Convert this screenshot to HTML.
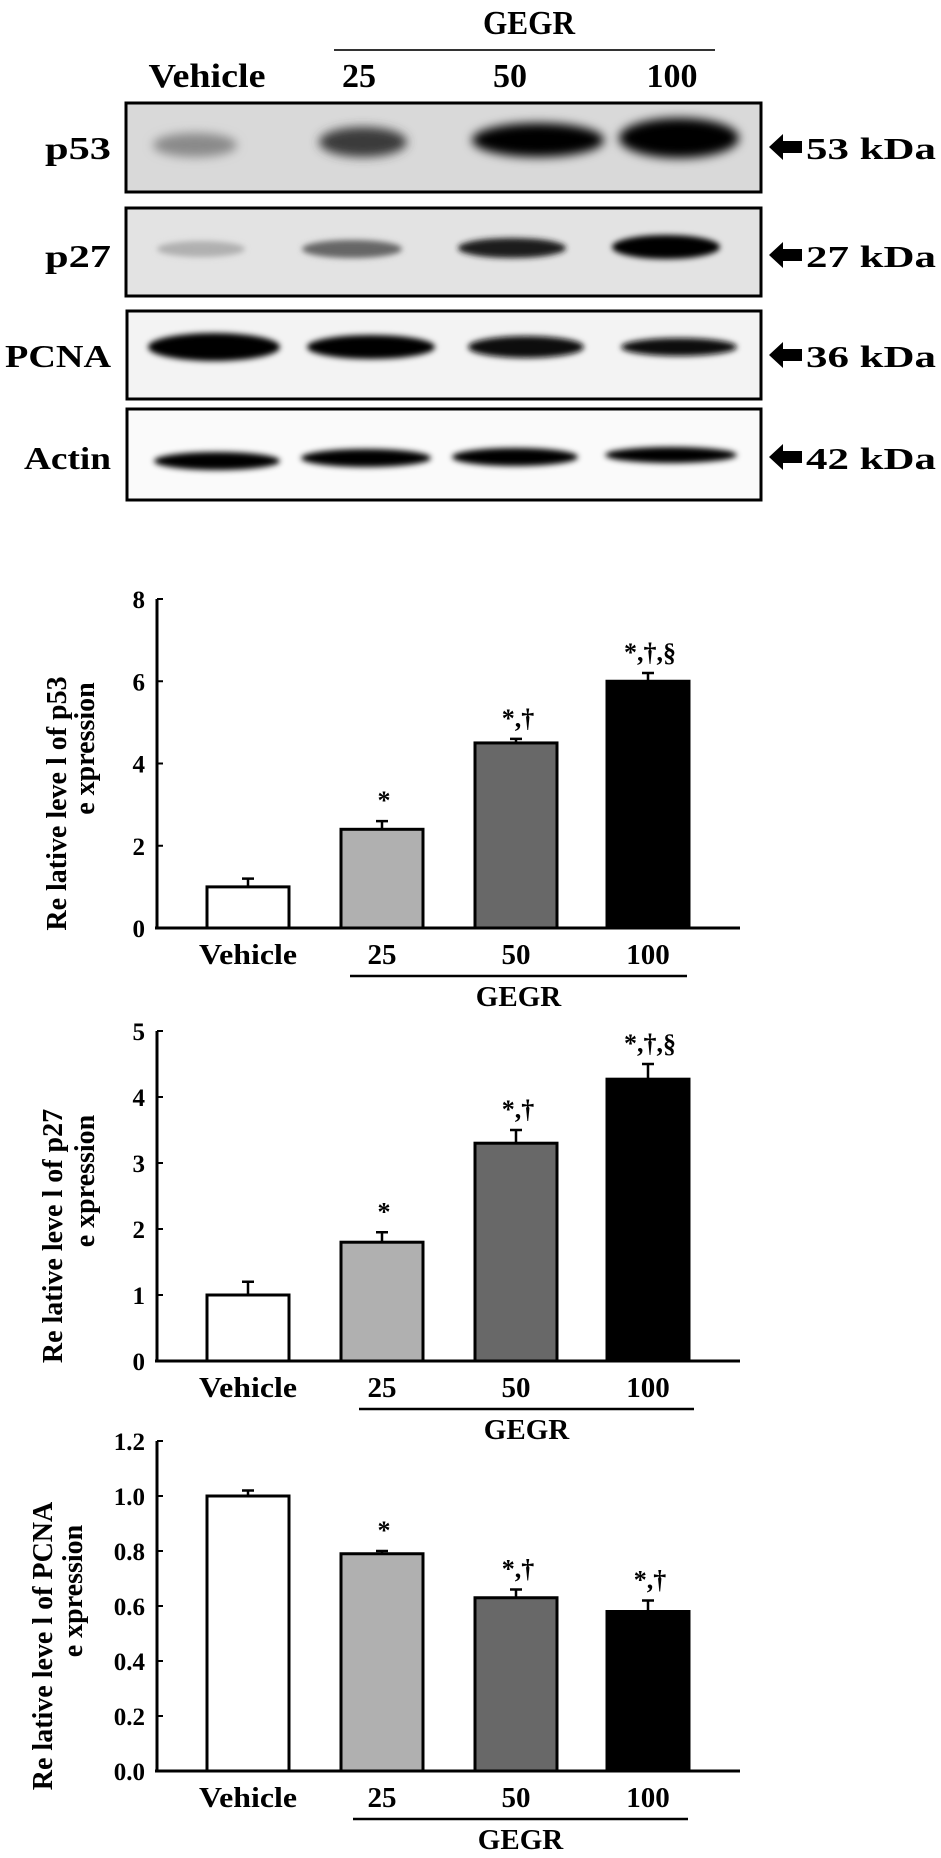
<!DOCTYPE html>
<html><head><meta charset="utf-8"><style>
html,body{margin:0;padding:0;background:#fff}
svg{display:block}
text{font-family:"Liberation Serif",serif;font-weight:bold;fill:#000}
</style></head><body>
<svg id="fig" width="941" height="1858" viewBox="0 0 941 1858" xmlns="http://www.w3.org/2000/svg">
<defs>
<filter id="blur" x="-30%" y="-60%" width="160%" height="220%"><feGaussianBlur stdDeviation="5"/></filter>
<filter id="blur2" x="-30%" y="-60%" width="160%" height="220%"><feGaussianBlur stdDeviation="3"/></filter>
</defs>
<g>
<text x="529" y="34" text-anchor="middle" font-size="34" textLength="92" lengthAdjust="spacingAndGlyphs">GEGR</text>
<line x1="334" y1="50" x2="715" y2="50" stroke="#333" stroke-width="2"/>
<text x="207" y="87" text-anchor="middle" font-size="34" textLength="117" lengthAdjust="spacingAndGlyphs">Vehicle</text>
<text x="359" y="87" text-anchor="middle" font-size="34">25</text>
<text x="510" y="87" text-anchor="middle" font-size="34">50</text>
<text x="672" y="87" text-anchor="middle" font-size="34">100</text>

<g>
<rect x="126" y="103" width="635" height="89" fill="#d9d9d9" stroke="#000" stroke-width="3"/>
<g filter="url(#blur)">
<ellipse cx="195" cy="145" rx="42" ry="12" fill="#8a8a8a"/>
<ellipse cx="363" cy="142" rx="44" ry="15" fill="#3a3a3a"/>
<ellipse cx="538" cy="140" rx="66" ry="17" fill="#000"/>
<ellipse cx="679" cy="138" rx="60" ry="20" fill="#000"/>
</g>
<rect x="126" y="103" width="635" height="89" fill="none" stroke="#000" stroke-width="3"/>
<text x="111" y="159" text-anchor="end" font-size="32" textLength="66" lengthAdjust="spacingAndGlyphs">p53</text>
</g>
<g>
<rect x="126" y="208" width="635" height="88" fill="#e3e3e3" stroke="#000" stroke-width="3"/>
<g filter="url(#blur2)">
<ellipse cx="201" cy="249" rx="44" ry="8" fill="#b0b0b0"/>
<ellipse cx="352" cy="249" rx="50" ry="9" fill="#666"/>
<ellipse cx="512" cy="248" rx="54" ry="10" fill="#1e1e1e"/>
<ellipse cx="666" cy="247" rx="54" ry="12" fill="#000"/>
</g>
<rect x="126" y="208" width="635" height="88" fill="none" stroke="#000" stroke-width="3"/>
<text x="111" y="267" text-anchor="end" font-size="32" textLength="66" lengthAdjust="spacingAndGlyphs">p27</text>
</g>
<g>
<rect x="127" y="311" width="634" height="88" fill="#f3f3f3" stroke="#000" stroke-width="3"/>
<g filter="url(#blur2)">
<ellipse cx="214" cy="347" rx="66" ry="14" fill="#000"/>
<ellipse cx="371" cy="347" rx="64" ry="12" fill="#050505"/>
<ellipse cx="526" cy="347" rx="58" ry="11" fill="#080808"/>
<ellipse cx="679" cy="347" rx="58" ry="9" fill="#0a0a0a"/>
</g>
<rect x="127" y="311" width="634" height="88" fill="none" stroke="#000" stroke-width="3"/>
<text x="111" y="367" text-anchor="end" font-size="32" textLength="106" lengthAdjust="spacingAndGlyphs">PCNA</text>
</g>
<g>
<rect x="127" y="409" width="634" height="91" fill="#fafafa" stroke="#000" stroke-width="3"/>
<g filter="url(#blur2)">
<ellipse cx="217" cy="461" rx="63" ry="9" fill="#000"/>
<ellipse cx="366" cy="458" rx="65" ry="9" fill="#000"/>
<ellipse cx="515" cy="457" rx="63" ry="9" fill="#000"/>
<ellipse cx="671" cy="455" rx="66" ry="8" fill="#000"/>
</g>
<rect x="127" y="409" width="634" height="91" fill="none" stroke="#000" stroke-width="3"/>
<text x="111" y="469" text-anchor="end" font-size="32" textLength="87" lengthAdjust="spacingAndGlyphs">Actin</text>
</g>
<g>
<path d="M769 147 L783 134 L783 141 L802 141 L802 153 L783 153 L783 160 Z" fill="#000"/>
<text x="806" y="159" font-size="31" textLength="130" lengthAdjust="spacingAndGlyphs">53 kDa</text>
<path d="M769 255 L783 242 L783 249 L802 249 L802 261 L783 261 L783 268 Z" fill="#000"/>
<text x="806" y="267" font-size="31" textLength="130" lengthAdjust="spacingAndGlyphs">27 kDa</text>
<path d="M769 355 L783 342 L783 349 L802 349 L802 361 L783 361 L783 368 Z" fill="#000"/>
<text x="806" y="367" font-size="31" textLength="130" lengthAdjust="spacingAndGlyphs">36 kDa</text>
<path d="M769 457 L783 444 L783 451 L802 451 L802 463 L783 463 L783 470 Z" fill="#000"/>
<text x="806" y="469" font-size="31" textLength="130" lengthAdjust="spacingAndGlyphs">42 kDa</text>
</g>
</g>
</svg>
<script>
const categories = ["Vehicle","25","50","100"];
const barColors = ["#ffffff","#b0b0b0","#686868","#000000"];
const p53Values = [1.0, 2.4, 4.5, 6.0];
const p53Errors = [0.2, 0.2, 0.1, 0.2];
const p53Sig = ["", "*", "*,†", "*,†,§"];
const p53Ticks = ["0","2","4","6","8"];
const p27Values = [1.0, 1.8, 3.3, 4.27];
const p27Errors = [0.2, 0.15, 0.2, 0.23];
const p27Sig = ["", "*", "*,†", "*,†,§"];
const p27Ticks = ["0","1","2","3","4","5"];
const pcnaValues = [1.0, 0.79, 0.63, 0.58];
const pcnaErrors = [0.02, 0.01, 0.03, 0.04];
const pcnaSig = ["", "*", "*,†", "*,†"];
const pcnaTicks = ["0.0","0.2","0.4","0.6","0.8","1.0","1.2"];

const NS = "http://www.w3.org/2000/svg";
const svg = document.getElementById('fig');
function mk(tag, attrs, parent){
  const e = document.createElementNS(NS, tag);
  for (const k in attrs) e.setAttribute(k, attrs[k]);
  parent.appendChild(e);
  return e;
}
function drawChart(name, values, errors, sig, ticks, top, bottom, ylab, lab1x, lab2x, lineX1, lineX2){
  const g = mk('g', {}, svg);
  
  
  const axisX = 157, axisEnd = 740;
  const yMax = parseFloat(ticks[ticks.length-1]);
  const y = v => bottom - (v / yMax) * (bottom - top);
  const xLeft = [207, 341, 475, 607], bw = 82;
  const xc = i => xLeft[i] + bw/2;
  const ya = mk('line', {x1:axisX, y1:top, x2:axisX, y2:bottom, stroke:'#000','stroke-width':3}, g);
  
  
  const xa = mk('line', {x1:axisX-2, y1:bottom, x2:axisEnd, y2:bottom, stroke:'#000','stroke-width':3}, g);
  
  
  ticks.forEach(t => {
    const ty = y(parseFloat(t));
    const tk = mk('line', {x1:axisX, y1:ty, x2:axisX+6, y2:ty, stroke:'#000','stroke-width':2}, g);
    
    
    const tl = mk('text', {x:axisX-12, y:ty+9, 'text-anchor':'end','font-size':25}, g);
    tl.textContent = t;
    
    
  });
  values.forEach((v, i) => {
    const yt = y(v), ye = y(v + errors[i]);
    const eb = mk('path', {d:`M${xc(i)} ${yt} L${xc(i)} ${ye} M${xc(i)-6} ${ye} L${xc(i)+6} ${ye}`, stroke:'#000','stroke-width':2.5, fill:'none'}, g);
    
    
    const b = mk('rect', {x:xLeft[i], y:yt, width:bw, height:bottom-yt, fill:barColors[i], stroke:'#000','stroke-width':3}, g);
    
    
    if (sig[i]) {
      const s = mk('text', {x:xc(i)+2, y:ye-12, 'text-anchor':'middle','font-size':26}, g);
      s.textContent = sig[i];
      
      
    }
    const xl = mk('text', {x:xc(i), y:bottom+36, 'text-anchor':'middle','font-size':29}, g);
    if (i === 0) { xl.setAttribute('textLength', 98); xl.setAttribute('lengthAdjust', 'spacingAndGlyphs'); }
    xl.textContent = categories[i];
    
    
  });
  const gl = mk('line', {x1:lineX1, y1:bottom+48, x2:lineX2, y2:bottom+48, stroke:'#000','stroke-width':2.5}, g);
  
  
  const gt = mk('text', {x:(lineX1+lineX2)/2, y:bottom+78, 'text-anchor':'middle','font-size':29}, g);
  gt.textContent = 'GEGR';
  
  
  const mid = (top + bottom) / 2 + 40;
  const t1 = mk('text', {x:lab1x, y:mid, 'text-anchor':'middle','font-size':28, transform:`rotate(-90 ${lab1x} ${mid})`}, g);
  t1.textContent = ylab;
  
  
  const t2 = mk('text', {x:lab2x, y:mid - 55, 'text-anchor':'middle','font-size':28, transform:`rotate(-90 ${lab2x} ${mid - 55})`}, g);
  t2.textContent = 'e xpression';
  
  
}
drawChart('chart-p53', p53Values, p53Errors, p53Sig, p53Ticks, 599, 928, 'Re lative  leve l of p53', 66, 94, 350, 687);
drawChart('chart-p27', p27Values, p27Errors, p27Sig, p27Ticks, 1031, 1361, 'Re lative  leve l of p27', 62, 94, 359, 694);
drawChart('chart-pcna', pcnaValues, pcnaErrors, pcnaSig, pcnaTicks, 1441, 1771, 'Re lative  leve l of PCNA', 52, 82, 353, 688);
</script>
</body></html>
